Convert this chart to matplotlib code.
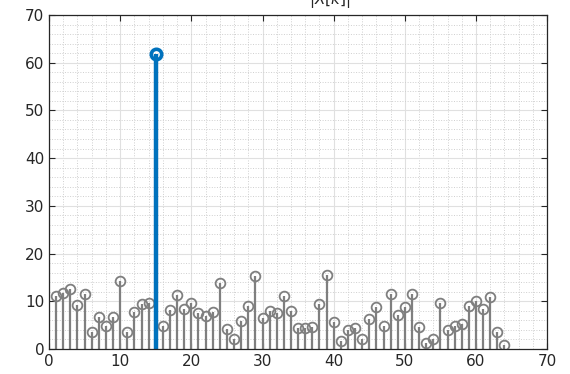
import numpy as np
import matplotlib.pyplot as plt
from matplotlib.ticker import MultipleLocator

# magnitude of each bin, k = 1..64
k = np.arange(1, 65)
mag = [11.2, 11.7, 12.5, 9.3, 11.5, 3.6, 6.7, 4.9, 6.7, 14.3,
       3.6, 7.8, 9.4, 9.7, 61.8, 4.9, 8.1, 11.3, 8.3, 9.7,
       7.6, 7.0, 7.8, 13.8, 4.1, 2.0, 5.8, 8.9, 15.3, 6.4,
       7.9, 7.6, 11.0, 7.9, 4.3, 4.4, 4.5, 9.5, 15.4, 5.7,
       1.7, 3.9, 4.4, 2.1, 6.2, 8.7, 4.8, 11.5, 7.2, 8.7,
       11.5, 4.5, 1.3, 2.1, 9.7, 4.0, 4.9, 5.3, 9.1, 10.1,
       8.4, 10.8, 3.5, 0.9]
peak_k = 15

mag = np.array(mag)
gray = "#7f7f7f"
blue = "#0072BD"
dark = "#262626"

fig = plt.figure(figsize=(5.7, 3.74), dpi=100)
ax = fig.add_axes([0.086, 0.067, 0.874, 0.893])

rest = k != peak_k
ml, sl, bl = ax.stem(k[rest], mag[rest], basefmt=" ")
plt.setp(sl, color=gray, linewidth=1.6)
plt.setp(ml, color=gray, markerfacecolor="none", markeredgecolor=gray,
         markersize=7, markeredgewidth=1.3)

ml2, sl2, bl2 = ax.stem(k[~rest], mag[~rest], basefmt=" ")
plt.setp(sl2, color=blue, linewidth=3.2)
plt.setp(ml2, color=blue, markerfacecolor="none", markeredgecolor=blue,
         markersize=7.5, markeredgewidth=2.6)

ax.set_xlim(0, 70)
ax.set_ylim(0, 70)
ax.xaxis.set_major_locator(MultipleLocator(10))
ax.yaxis.set_major_locator(MultipleLocator(10))
ax.xaxis.set_minor_locator(MultipleLocator(2))
ax.yaxis.set_minor_locator(MultipleLocator(2))
ax.grid(True, which="major", color="#e0e0e0", linewidth=0.8)
ax.grid(True, which="minor", color="#cfcfcf", linestyle=":", linewidth=0.7)
ax.set_axisbelow(True)

ax.tick_params(which="both", direction="in", top=True, right=True,
               colors=dark, labelsize=11)
ax.tick_params(which="minor", length=0)
ax.tick_params(which="major", length=4)
for s in ax.spines.values():
    s.set_color(dark)
    s.set_linewidth(0.9)

fig.text(0.578, 1 - 10 / 374, r"$|X[k]|$", ha="center", va="bottom",
         fontsize=11, color=dark)

fig.savefig("out.png", dpi=100)
